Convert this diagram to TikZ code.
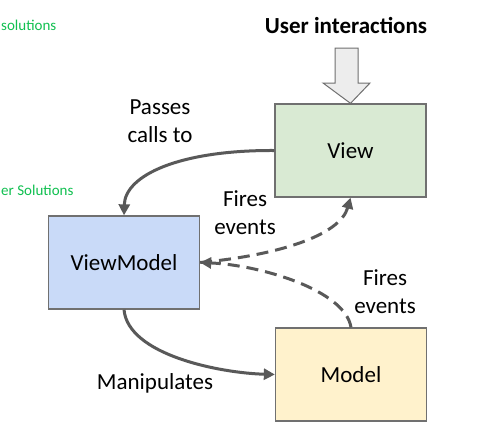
\documentclass[tikz,border=0pt]{standalone}
\usepackage{fontspec}
\setmainfont{Carlito}
\usetikzlibrary{arrows.meta}
\definecolor{viewfill}{HTML}{D9EAD3}
\definecolor{vmfill}{HTML}{C9DAF8}
\definecolor{modelfill}{HTML}{FFF2CC}
\definecolor{boxline}{HTML}{707070}
\definecolor{conn}{HTML}{595959}
\definecolor{hand}{HTML}{10C050}
\begin{document}
\begin{tikzpicture}[x=1pt,y=-1pt,
  box/.style={draw=boxline,line width=1.3pt,minimum width=151pt,minimum height=93pt,inner sep=0pt,
    font=\fontsize{23}{27}\selectfont},
  lbl/.style={font=\fontsize{23}{28}\selectfont,align=center,inner sep=0pt},
  handtxt/.style={font=\fontsize{15}{17}\selectfont,text=hand,inner sep=0pt,anchor=west},
  solidconn/.style={draw=conn,line width=3pt,-{Triangle[length=11pt,width=11pt]}},
  dashconn/.style={draw=conn,line width=3pt,dash pattern=on 12pt off 7pt,-{Triangle[length=11pt,width=11pt]}},
  blockarrow/.style={draw=boxline,fill=black!7,line width=1pt}
]
\useasboundingbox (0,0) rectangle (494,444);
\fill[white] (0,0) rectangle (494,444);

\node[handtxt] (sol1) at (1,25) {solutions};
\node[handtxt] (sol2) at (1,190) {er Solutions};

\node[box,fill=viewfill] (View) at (350.5,150.5) {View};
\node[box,fill=vmfill] (VM) at (124,262.5) {ViewModel};
\node[box,fill=modelfill] (Model) at (351,374.5) {Model};

\node[lbl,font=\fontsize{23}{28}\selectfont\bfseries] (ui) at (346,25) {User interactions};
\draw[blockarrow] (335,48) -- (358,48) -- (358,83) -- (370,83) -- (View.north) -- (323,83) -- (335,83) -- cycle;

\node[lbl] (passes) at (160,121) {Passes\\calls to};
\node[lbl] (fires1) at (245,213) {Fires\\events};
\node[lbl] (fires2) at (385,292) {Fires\\events};
\node[lbl] (manip) at (155,383) {Manipulates};

\draw[solidconn] (View.west) .. controls (180,150) and (125,175) .. (VM.north);
\draw[solidconn] (VM.south) .. controls (128,355) and (220,373) .. (Model.west);
\draw[dashconn] (VM.east) .. controls (280,255) and (340,235) .. (View.south);
\draw[dashconn] (Model.north) .. controls (345,290) and (260,265) .. (VM.east);
\end{tikzpicture}
\end{document}
